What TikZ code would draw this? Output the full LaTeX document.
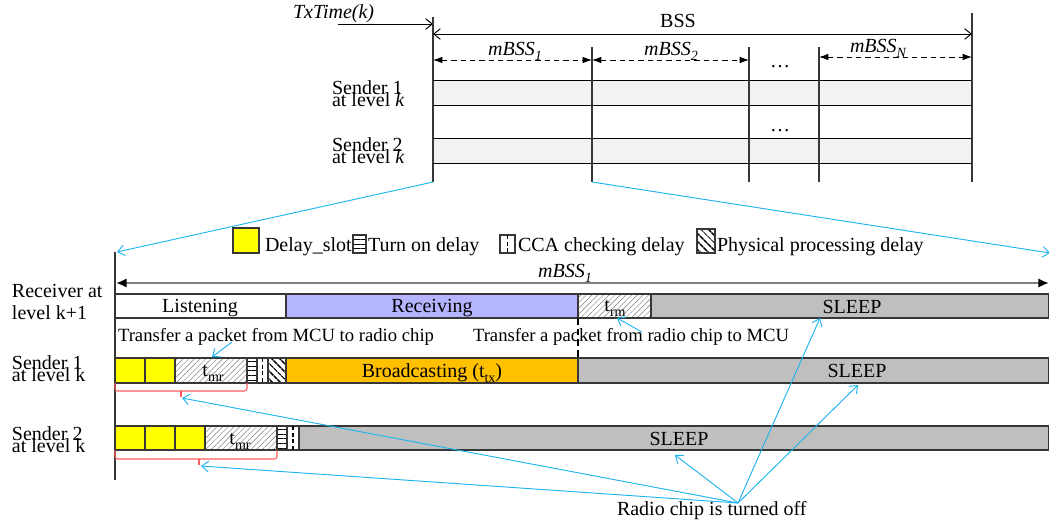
\documentclass[tikz,border=0pt]{standalone}
\usepackage{fontspec}
\setmainfont{Liberation Serif}
\usetikzlibrary{arrows.meta,patterns.meta,fit}

\definecolor{sky}{RGB}{30,180,240}
\definecolor{slotyellow}{RGB}{255,255,0}
\definecolor{txorange}{RGB}{255,192,0}
\definecolor{rxblue}{RGB}{180,180,255}
\definecolor{sleepgray}{RGB}{191,191,191}
\definecolor{boxgray}{RGB}{242,242,242}
\definecolor{bracered}{RGB}{255,90,90}
\definecolor{edge}{RGB}{55,55,55}

\newcommand\lowsub[1]{\raisebox{-0.55ex}{\fontsize{10.5}{10.5}\selectfont #1}}
% two lines set at a fixed baseline distance, baseline on the first line
\newcommand\twolines[3]{\vtop{\baselineskip=#3\lineskiplimit=-\maxdimen\hbox{#1}\hbox{#2}}}

\begin{document}
\begin{tikzpicture}[x=0.75pt,y=-0.75pt,
  every node/.style={font=\fontsize{15}{16}\selectfont, inner sep=0pt, outer sep=0pt},
  small/.style={font=\fontsize{14}{15}\selectfont},
  seg/.style={draw=edge, line width=0.8pt, inner sep=0pt},
  slot/.style={seg, fill=slotyellow},
  hatch/.style={seg, preaction={fill=white}, pattern={Lines[angle=45,distance=3pt,line width=0.35pt]}, pattern color=gray},
  turnon/.style={seg, preaction={fill=white}, pattern={Lines[angle=0,distance=3.4pt,line width=0.6pt]}, pattern color=black},
  cca/.style={seg, fill=white},
  phys/.style={seg, preaction={fill=white}, pattern={Lines[angle=-45,distance=4pt,line width=1.3pt]}, pattern color=black},
  sleep/.style={seg, fill=sleepgray},
  topbox/.style={draw=black, line width=0.7pt, fill=boxgray, inner sep=0pt},
  pointer/.style={draw=sky, line width=0.7pt, -{Straight Barb[length=5pt,width=8pt]}},
  dim/.style={dash pattern=on 4pt off 3pt, line width=0.7pt, {Latex[length=7pt,width=5pt]}-{Latex[length=7pt,width=5pt]}},
  brace/.style={draw=bracered, line width=0.8pt, rounded corners=2pt},
  seglabel/.style={anchor=base},
  ]
\useasboundingbox (0,0) rectangle (1049,525);

% ---------- upper part: BSS split into mini slots ----------
\node[anchor=base west, font=\fontsize{15}{16}\selectfont\itshape] (txt) at (293,18) {TxTime(k)};
\coordinate (txs) at (338,24);
\coordinate (txe) at (433,24);
\draw[line width=0.7pt, -{Straight Barb[length=5pt,width=8pt]}] (txs) -- (txe);

\node[topbox, fit={(433,80) (972,105)}] (top1) {};
\node[topbox, fit={(433,138) (971,163)}] (top2) {};
\draw[line width=1.2pt] (433,138) -- (433,163);

\coordinate (va) at (433,182);
\coordinate (vb) at (592,182);
\draw[line width=0.8pt, edge] (433,17) -- (va);
\draw[line width=0.8pt, edge] (592,47) -- (vb);
\draw[line width=0.8pt, edge] (749,47) -- (749,182);
\draw[line width=0.8pt, edge] (819,47) -- (819,182);
\draw[line width=0.8pt, edge] (972,13) -- (972,182);

\node[anchor=base] (bss) at (678,27) {BSS};
\draw[line width=0.7pt, {Straight Barb[length=5pt,width=8pt]}-{Straight Barb[length=5pt,width=8pt]}] (433,34) -- (972,34);

\node[anchor=base] (m1) at (515,55) {\itshape mBSS\lowsub{\itshape 1}};
\node[anchor=base] (m2) at (671,55) {\itshape mBSS\lowsub{\itshape 2}};
\node[anchor=base] (mn) at (878,52) {\itshape mBSS\lowsub{\itshape N}};
\draw[dim] (433,60) -- (592,60);
\draw[dim] (592,60) -- (749,60);
\draw[dim] (819,57) -- (972,57);
\node[anchor=base] (dots1) at (780,67) {\dots};
\node[anchor=base] (dots2) at (780,131) {\dots};

\node[anchor=base west] (ts1) at (332,94) {\twolines{Sender 1}{at level \textit{k}}{9pt}};
\node[anchor=base west] (ts2) at (332,151) {\twolines{Sender 2}{at level \textit{k}}{9pt}};

% ---------- zoom lines ----------
\coordinate (zl) at (117,252);
\coordinate (zr) at (1050,253);
\draw[pointer] (va) -- (zl);
\draw[pointer] (vb) -- (zr);

% ---------- legend ----------
\node[slot, fit={(233,228) (259,253)}] (lg1) {};
\node[anchor=base west] (lt1) at (265,251) {Delay\_slot};
\node[turnon, fit={(353,235) (366,253)}] (lg2) {};
\node[anchor=base west] (lt2) at (368,251) {Turn on delay};
\node[cca, fit={(500,235) (515,253)}] (lg3) {};
\draw[dash pattern=on 3pt off 2pt, line width=0.8pt] (lg3.north) -- (lg3.south);
\node[anchor=base west] (lt3) at (518,251) {CCA checking delay};
\node[phys, fit={(697,229) (715,253)}] (lg4) {};
\node[anchor=base west] (lt4) at (717,251) {Physical processing delay};

% ---------- mini slot axis ----------
\node[anchor=base] (mb) at (565,277) {\itshape mBSS\lowsub{\itshape 1}};
\coordinate (al) at (116,283);
\coordinate (ar) at (1049,283);
\draw[line width=1.6pt, draw=gray, {Latex[length=8pt,width=7pt,color=black]}-{Latex[length=8pt,width=7pt,color=black]}] (al) -- (ar);
\draw[line width=0.9pt, edge] (115,252) -- (115,480);

% ---------- receiver ----------
\node[anchor=base west] (rl) at (12,297) {\twolines{Receiver at}{level k+1}{17pt}};
\node[seg, fill=white, fit={(115,294) (286,318)}] (listen) {};
\node[seg, fill=rxblue, fit={(286,294) (578,318)}] (recv) {};
\node[hatch, fit={(578,294) (651,318)}] (trm) {};
\node[sleep, fit={(651,294) (1049,318)}] (rsleep) {};
\node[seglabel] (listenT) at (200,312) {Listening};
\node[seglabel] (recvT) at (432,312) {Receiving};
\node[seglabel] (trmT) at (615,311) {t\lowsub{rm}};
\node[seglabel] (rsleepT) at (852,313) {SLEEP};

\node[anchor=base west, small] (tr1) at (118,341) {Transfer a packet from MCU to radio chip};
\node[anchor=base west, small] (tr2) at (473,341) {Transfer a packet from radio chip to MCU};

% ---------- sender 1 ----------
\node[anchor=base west] (s1l) at (12,369) {\twolines{Sender 1}{at level k}{9.5pt}};
\node[slot, fit={(115,358) (145,383)}] (s1d1) {};
\node[slot, fit={(145,358) (175,383)}] (s1d2) {};
\node[hatch, fit={(175,358) (247,383)}] (s1mr) {};
\node[turnon, fit={(247,358) (257,383)}] (s1on) {};
\node[cca, fit={(257,358) (268,383)}] (s1cca) {};
\draw[dash pattern=on 3pt off 2pt, line width=0.8pt] (s1cca.north) -- (s1cca.south);
\node[phys, fit={(268,358) (286,383)}] (s1ph) {};
\node[seg, fill=txorange, fit={(286,358) (578,383)}] (s1tx) {};
\node[sleep, fit={(578,358) (1049,383)}] (s1sleep) {};
\node[seglabel] (s1mrT) at (213,376) {t\lowsub{mr}};
\node[seglabel] (s1txT) at (432,377) {Broadcasting (t\lowsub{tx})};
\node[seglabel] (s1sleepT) at (857,377) {SLEEP};

\draw[line width=1.2pt, dash pattern=on 5pt off 3pt] (recv.south east) -- (s1tx.north east);

\draw[brace] (115,383) -- (115,391) -- (247,391) -- (247,383);
\coordinate (b1) at (181,391);
\coordinate (b1t) at (181,397);
\draw[brace] (b1) -- (b1t);

% ---------- sender 2 ----------
\node[anchor=base west] (s2l) at (12,440) {\twolines{Sender 2}{at level k}{9pt}};
\node[slot, fit={(115,426) (145,450)}] (s2d1) {};
\node[slot, fit={(145,426) (175,450)}] (s2d2) {};
\node[slot, fit={(175,426) (205,450)}] (s2d3) {};
\node[hatch, fit={(205,426) (277,450)}] (s2mr) {};
\node[turnon, fit={(277,426) (287,450)}] (s2on) {};
\node[cca, fit={(287,426) (299,450)}] (s2cca) {};
\draw[dash pattern=on 3pt off 2pt, line width=0.8pt] (s2cca.north) -- (s2cca.south);
\node[sleep, fit={(299,426) (1049,450)}] (s2sleep) {};
\node[seglabel] (s2mrT) at (240,444) {t\lowsub{mr}};
\node[seglabel] (s2sleepT) at (679,445) {SLEEP};

\draw[brace] (115,450) -- (115,459) -- (277,459) -- (277,450);
\coordinate (b2) at (199,459);
\coordinate (b2t) at (199,465);
\draw[brace] (b2) -- (b2t);

% ---------- pointers ----------
\coordinate (p1s) at (232,342);
\coordinate (p1e) at (212,357);
\draw[pointer] (p1s) -- (p1e);
\coordinate (p2s) at (642,332);
\coordinate (p2e) at (617,318);
\draw[pointer] (p2s) -- (p2e);

\node[anchor=base west] (off) at (617,515) {Radio chip is turned off};
\coordinate (hub) at (738,503);
\coordinate (t1) at (820,318);
\coordinate (t2) at (858,385);
\coordinate (t3) at (675,455);
\coordinate (t4) at (182,398);
\coordinate (t5) at (201,466);
\draw[pointer] (hub) -- (t1);
\draw[pointer] (hub) -- (t2);
\draw[pointer] (hub) -- (t3);
\draw[pointer] (hub) -- (t4);
\draw[pointer] (hub) -- (t5);
\end{tikzpicture}
\end{document}
